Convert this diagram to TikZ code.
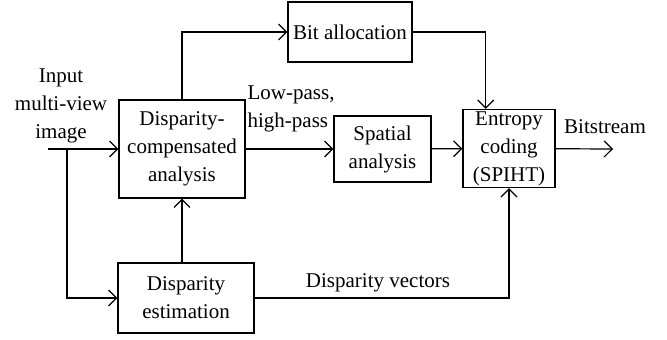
\documentclass[tikz,border=0pt]{standalone}
\usepackage{fontspec}
\setmainfont{Liberation Serif}
\usetikzlibrary{arrows.meta,calc}

\begin{document}
\begin{tikzpicture}
  [x=0.5pt,y=-0.5pt,line width=0.6pt,font=\fontsize{10.5}{14}\selectfont,
   block/.style={draw,align=center,inner sep=1pt},
   tag/.style={align=center,inner sep=0pt},
   flow/.style={-{Straight Barb[length=4pt,width=8pt]}}]
  \useasboundingbox (0,0) rectangle (667,339);

  \node[block,minimum width=63pt,minimum height=49pt] (dca) at (182,149) {Disparity-\\compensated\\analysis};
  \node[block,minimum width=68pt,minimum height=35pt] (est) at (186,298) {Disparity\\estimation};
  \node[block,minimum width=62pt,minimum height=30pt] (bit) at (350,32) {Bit allocation};
  \node[block,minimum width=48.5pt,minimum height=33pt] (spa) at (382.5,149) {Spatial\\analysis};
  \node[block,minimum width=46pt,minimum height=36.5pt] (ent) at (509,148.5) {Entropy\\coding\\(SPIHT)};

  \coordinate (in) at (48,149);
  \coordinate (split) at (67,149);
  \coordinate (out) at (613,149);

  \node[tag] (inlbl) at (61,106) {Input\\multi-view\\image};
  \node[tag,align=left,anchor=west] (lplbl) at (247,109) {Low-pass,\\high-pass};
  \node[tag] (bslbl) at (605,127) {Bitstream};
  \node[tag] (dvlbl) at (378,283) {Disparity vectors};

  \foreach \from/\to in {in/dca, dca/spa, spa/ent, ent/out}
    \draw [flow] (\from) -- (\to);

  \draw [flow] (split) |- (est);
  \draw [flow] (dca.north) |- (bit);
  \draw [flow] (bit.east) -| ($(ent.north west)!0.5!(ent.north)$);
  \draw [flow] (est.east) -| (ent.south);
  \draw [flow] (est.north -| dca.south) -- (dca.south);

\end{tikzpicture}
\end{document}
